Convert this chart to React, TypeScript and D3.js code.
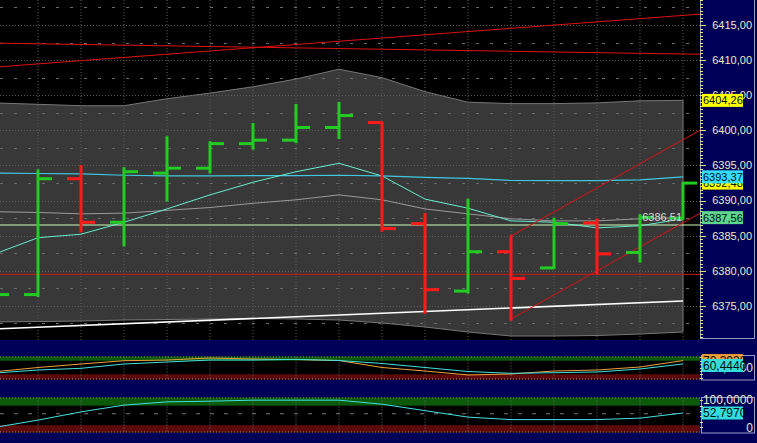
import React from 'react';
import * as d3 from 'd3';

// OHLC bars, one per grid column
const opens = [6376.0, 6376.6, 6393.1, 6386.9, 6393.9, 6394.6, 6398.1, 6398.6, 6400.4, 6401.1, 6386.7, 6377.1, 6382.7, 6380.4, 6386.8, 6382.6, 6387.5];
const highs = [6378.0, 6394.3, 6394.9, 6394.6, 6399.0, 6398.3, 6400.9, 6403.6, 6403.9, 6401.1, 6388.1, 6390.1, 6384.9, 6387.4, 6387.3, 6387.9, 6392.5];
const lows = [6375.8, 6376.4, 6385.6, 6383.6, 6390.0, 6394.0, 6397.4, 6398.3, 6398.9, 6385.7, 6374.0, 6376.9, 6373.0, 6380.4, 6379.6, 6381.3, 6387.4];
const closes = [6376.6, 6393.1, 6386.9, 6394.1, 6394.6, 6398.1, 6398.6, 6400.4, 6402.1, 6386.0, 6377.3, 6382.7, 6378.9, 6386.7, 6382.4, 6387.6, 6392.48];

// envelope band
const bandUpper = [6403.9, 6403.7, 6403.5, 6403.5, 6404.5, 6405.3, 6406.2, 6407.3, 6408.7, 6407.5, 6405.5, 6404.0, 6403.8, 6403.8, 6403.9, 6404.2, 6404.26];
const bandLower = [6372.7, 6372.76, 6372.83, 6372.98, 6373.05, 6373.12, 6373.19, 6373.12, 6372.98, 6372.55, 6371.98, 6371.27, 6370.7, 6370.7, 6370.77, 6370.98, 6371.27];

// moving averages
const fastMa = [6382.4, 6384.7, 6385.2, 6386.9, 6388.8, 6390.8, 6392.6, 6394.1, 6395.3, 6393.5, 6390.2, 6388.9, 6387.1, 6386.9, 6386.1, 6386.4, 6387.4];
const slowMa = [6388.4, 6388.3, 6388.1, 6388.2, 6388.6, 6389.0, 6389.6, 6390.1, 6390.8, 6390.1, 6388.8, 6388.1, 6387.4, 6387.1, 6387.1, 6387.4, 6387.56];
const cyanLevel = [6393.9, 6393.85, 6393.8, 6393.6, 6393.5, 6393.5, 6393.55, 6393.55, 6393.6, 6393.5, 6393.3, 6393.15, 6392.85, 6392.82, 6392.82, 6392.95, 6393.37];

// drawn lines: [barIndex, price]
const redTrendUp: [number, number][] = [[0, 6409.0], [16.4, 6416.55]];
const redTrendFlat: [number, number][] = [[0, 6412.42], [16.4, 6410.83]];
const channelTop: [number, number][] = [[12, 6384.94], [16.4, 6400.03]];
const channelBottom: [number, number][] = [[12, 6373.12], [16.4, 6388.2]];
const whiteTrend: [number, number][] = [[0, 6371.7], [16, 6375.68]];
const redHorizontal = 6379.49;
const paleHorizontal = 6386.51;

const priceTicks = [6375, 6380, 6385, 6390, 6395, 6400, 6405, 6410, 6415];

// lower panels
const oscOrange = [37.6, 50, 60.3, 70, 72, 78, 75, 73.5, 70.6, 50, 39.7, 28, 30.9, 39.7, 42.6, 51.5, 70.3938];
const oscCyan = [33.8, 42.6, 47.6, 60.3, 66.2, 72, 72, 74, 70.6, 61.8, 50, 38.2, 32.9, 34.7, 36.8, 45.6, 60.444];
const stochCyan = [0, 26.7, 57, 81.7, 93.8, 96.3, 100, 100, 100, 85.3, 61.5, 37.7, 28.6, 28.6, 28.6, 34, 52.797];

const NAVY = '#000058';
const GREEN = '#22cc22';
const RED = '#ff1a1a';
const FONT = '"Liberation Sans", Arial, sans-serif';

const fmt = (v: number, d: number) => v.toFixed(d).replace('.', ',');

const Tag = ({ yPos, text, bg, size = 11 }: { yPos: number; text: string; bg: string; size?: number }) => (
  <g>
    <rect x={702} y={yPos - 6.5} width={41} height={13} fill={bg} />
    <text x={703} y={yPos} dy="0.36em" fontSize={size} fill="#001010" fontFamily={FONT}>{text}</text>
  </g>
);

const App: React.FC = () => {
  const plotRight = 700;
  const x = d3.scaleLinear().domain([0, 16]).range([-5, 683]);
  const y = d3.scaleLinear().domain([6370.13, 6418.56]).range([340, 0]);
  const y1 = d3.scaleLinear().domain([14.7, 82.4]).range([379.5, 356.5]);
  const y2 = d3.scaleLinear().domain([-17, 108]).range([432, 398]);

  const series = (vals: number[], ys: d3.ScaleLinear<number, number>) =>
    d3.line<number>().x((_v: number, i: number) => x(i)).y((v: number) => ys(v))(vals) || '';
  const segment = (pts: [number, number][]) =>
    d3.line<[number, number]>().x((d: [number, number]) => x(d[0])).y((d: [number, number]) => y(d[1]))(pts) || '';
  const band =
    d3.area<number>()
      .x((_v: number, i: number) => x(i))
      .y0((_v: number, i: number) => y(bandLower[i]))
      .y1((v: number) => y(v))(bandUpper) || '';

  const gridX = d3.range(1, 17).map((i: number) => x(i));
  const gridY = d3.range(6372.5, 6418.5, 2.5);
  const minorTicks = d3.range(6370.5, 6418.6, 0.5);

  const subPanel = (top: number, bottom: number, ys: d3.ScaleLinear<number, number>, hi: number, lo: number) => (
    <g>
      <rect x={0} y={top} width={plotRight} height={bottom - top} fill="#000" />
      <rect x={0} y={top} width={plotRight} height={ys(hi) - top} fill="#0a5a0a" />
      <rect x={0} y={ys(lo)} width={plotRight} height={bottom - ys(lo)} fill="#5e0a0a" />
      <line x1={0} x2={plotRight} y1={top + 0.5} y2={top + 0.5} stroke="#8a8a8a" strokeDasharray="1,2" />
      <line x1={0} x2={plotRight} y1={bottom - 0.5} y2={bottom - 0.5} stroke="#8a8a8a" strokeDasharray="1,2" />
      {gridX.map((gx: number, i: number) => (
        <line key={i} x1={gx} x2={gx} y1={top} y2={bottom} stroke="#6a6a6a" strokeDasharray="1,2" />
      ))}
    </g>
  );

  return (
    <div style={{ position: 'absolute', left: 0, top: 0 }}>
      <svg width={757} height={443} style={{ display: 'block', background: NAVY }}>
        <defs>
          <clipPath id="main-clip"><rect x={0} y={0} width={plotRight} height={340} /></clipPath>
          <clipPath id="sub-clip"><rect x={0} y={350} width={plotRight} height={90} /></clipPath>
        </defs>

        {/* main price panel */}
        <rect x={0} y={0} width={plotRight} height={340} fill="#000" />
        <g clipPath="url(#main-clip)">
          <path d={band} fill="#383838" stroke="#777" strokeWidth={1} />
          {gridY.map((v: number) => (
            <line key={v} x1={0} x2={plotRight} y1={Math.round(y(v)) + 0.5} y2={Math.round(y(v)) + 0.5}
              stroke={v % 5 === 0 ? '#5c5c5c' : '#6a6a6a'} strokeDasharray={v % 5 === 0 ? '1,2' : '3,11'} />
          ))}
          {gridX.map((gx: number, i: number) => (
            <line key={i} x1={gx} x2={gx} y1={0} y2={340} stroke="#5c5c5c" strokeDasharray="1,2" />
          ))}

          <path d={segment(redTrendUp)} fill="none" stroke="#dd1111" strokeWidth={1} />
          <path d={segment(redTrendFlat)} fill="none" stroke="#dd1111" strokeWidth={1} />
          <line x1={0} x2={plotRight} y1={y(redHorizontal)} y2={y(redHorizontal)} stroke="#d01515" strokeWidth={1} />
          <line x1={0} x2={plotRight} y1={y(paleHorizontal)} y2={y(paleHorizontal)} stroke="#ccffbb" strokeWidth={1} />
          <path d={series(cyanLevel, y)} fill="none" stroke="#40c8e0" strokeWidth={1.2} />
          <path d={series(slowMa, y)} fill="none" stroke="#9a9a9a" strokeWidth={1} />
          <path d={series(fastMa, y)} fill="none" stroke="#66eecc" strokeWidth={1} />
          <path d={segment(whiteTrend)} fill="none" stroke="#ffffff" strokeWidth={1.6} />
          <path d={segment(channelTop)} fill="none" stroke="#dd1111" strokeWidth={1} />
          <path d={segment(channelBottom)} fill="none" stroke="#dd1111" strokeWidth={1} />

          {opens.map((o: number, i: number) => {
            const c = closes[i];
            const col = c >= o ? GREEN : RED;
            const cx = x(i);
            return (
              <g key={i} stroke={col} strokeWidth={3}>
                <line x1={cx} x2={cx} y1={y(highs[i]) - 1} y2={y(lows[i]) + 1} />
                <line x1={cx - 14} x2={cx} y1={y(o)} y2={y(o)} />
                <line x1={cx} x2={cx + 14} y1={y(c)} y2={y(c)} />
              </g>
            );
          })}
          <text x={682} y={y(paleHorizontal) - 8} dy="0.35em" textAnchor="end" fontSize={11} fill="#d8d8d8" fontFamily={FONT}>
            {fmt(paleHorizontal, 2)}
          </text>
        </g>

        {/* price axis */}
        <rect x={700.5} y={-1} width={54} height={339.5} fill="none" stroke="#9a9ac8" strokeWidth={1} />
        {minorTicks.map((v: number) => (
          <line key={v} x1={700} x2={v % 5 === 0 ? 706 : 703} y1={Math.round(y(v)) + 0.5} y2={Math.round(y(v)) + 0.5} stroke="#e6e07a" />
        ))}
        {priceTicks.map((v: number) => (
          <text key={v} x={752} y={y(v)} dy="0.36em" textAnchor="end" fontSize={11} fill="#ecebc4" fontFamily={FONT}>
            {fmt(v, 2)}
          </text>
        ))}
        <Tag yPos={y(bandUpper[16])} text={fmt(bandUpper[16], 2)} bg="#ffff00" />
        <Tag yPos={y(closes[16])} text={fmt(closes[16], 2)} bg="#ffff00" />
        <Tag yPos={y(cyanLevel[16])} text={fmt(cyanLevel[16], 2)} bg="#33ddff" />
        <Tag yPos={y(slowMa[16])} text={fmt(slowMa[16], 2)} bg="#5fd48c" />

        {/* oscillator panel */}
        {subPanel(356.5, 379.5, y1, 70, 30)}
        <g clipPath="url(#sub-clip)">
          <path d={series(oscOrange, y1)} fill="none" stroke="#f0a040" strokeWidth={1} />
          <path d={series(oscCyan, y1)} fill="none" stroke="#44e0e0" strokeWidth={1} />
        </g>
        <rect x={701.5} y={355.5} width={53} height={24.5} fill="none" stroke="#9a9ac8" strokeWidth={1} />
        {[20, 30, 40, 50, 60, 70, 80].map((v: number) => (
          <line key={v} x1={700} x2={703} y1={Math.round(y1(v)) + 0.5} y2={Math.round(y1(v)) + 0.5} stroke="#e6e07a" />
        ))}
        <text x={753} y={y1(50)} dy="0.36em" textAnchor="end" fontSize={12} fill="#ecebc4" fontFamily={FONT}>{fmt(50, 4)}</text>
        <Tag yPos={y1(oscOrange[16])} text={fmt(oscOrange[16], 4)} bg="#f0a030" size={12} />
        <Tag yPos={y1(oscCyan[16]) + 1.5} text={fmt(oscCyan[16], 4)} bg="#33dddd" size={12} />

        {/* stochastic panel */}
        {subPanel(397.5, 432.5, y2, 80, 8)}
        <g clipPath="url(#sub-clip)">
          <line x1={0} x2={plotRight} y1={y2(50)} y2={y2(50)} stroke="#777" strokeDasharray="4,10" />
          <path d={series(stochCyan, y2)} fill="none" stroke="#44e0e0" strokeWidth={1} />
        </g>
        <rect x={701.5} y={397.5} width={53} height={35.5} fill="none" stroke="#9a9ac8" strokeWidth={1} />
        {[0, 20, 40, 60, 80, 100].map((v: number) => (
          <line key={v} x1={700} x2={703} y1={Math.round(y2(v)) + 0.5} y2={Math.round(y2(v)) + 0.5} stroke="#e6e07a" />
        ))}
        <text x={753} y={y2(100)} dy="0.36em" textAnchor="end" fontSize={12} fill="#ecebc4" fontFamily={FONT}>{fmt(100, 4)}</text>
        <text x={753} y={y2(0)} dy="0.36em" textAnchor="end" fontSize={12} fill="#ecebc4" fontFamily={FONT}>0</text>
        <Tag yPos={y2(stochCyan[16])} text={fmt(stochCyan[16], 4)} bg="#33dddd" size={12} />
      </svg>
    </div>
  );
};

export default App;
